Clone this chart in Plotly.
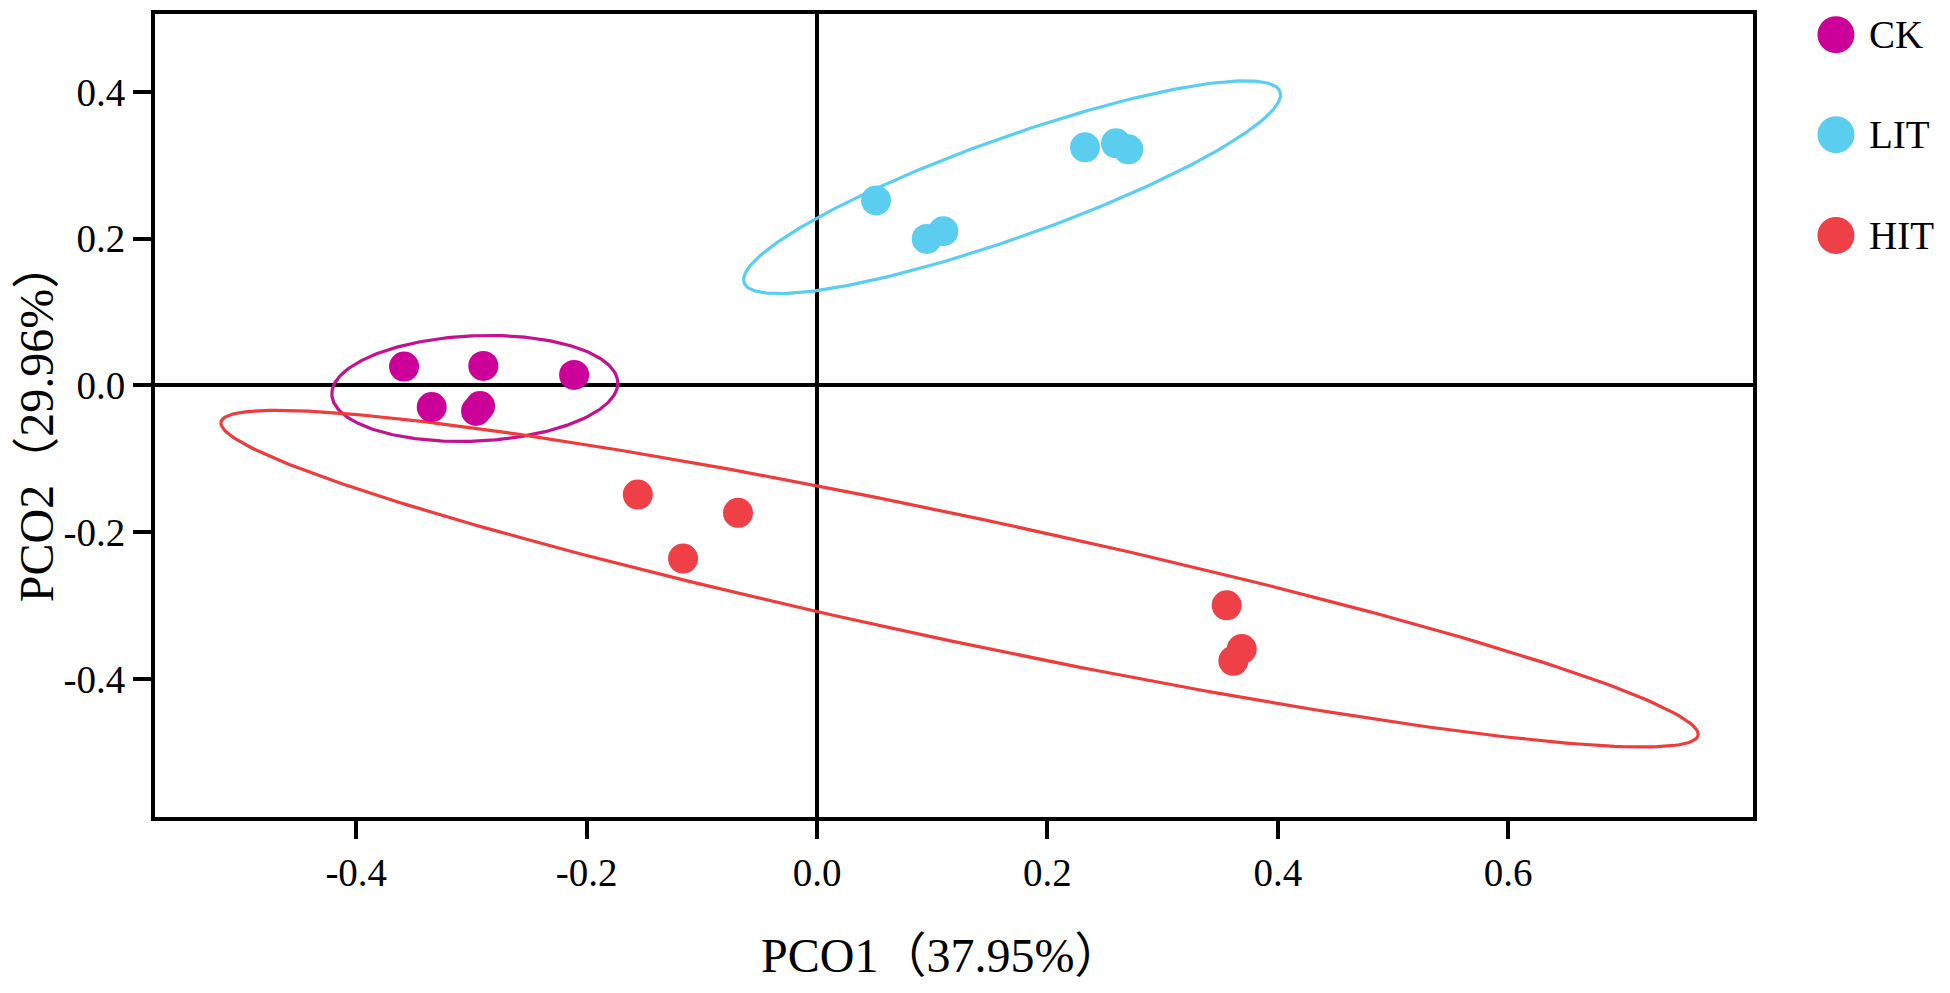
import numpy as np
import plotly.graph_objects as go

# sample scores
ck_x = [-0.3585, -0.2897, -0.2109, -0.3345, -0.2960, -0.2925]
ck_y = [0.0258, 0.0266, 0.0144, -0.0294, -0.0348, -0.0281]
lit_x = [0.0512, 0.0952, 0.1096, 0.2326, 0.2595, 0.2702]
lit_y = [0.2522, 0.1997, 0.2102, 0.3245, 0.3299, 0.3218]
hit_x = [-0.1556, -0.0686, -0.1163, 0.3556, 0.3687, 0.3614]
hit_y = [-0.1487, -0.1736, -0.2359, -0.2997, -0.3593, -0.3752]

# ellipses: centre, first and second semi-axis vectors (data units)
ck_ell = [(-0.2971, -0.0041), (0.1241, 0.0085), (0.0020, -0.0717)]
lit_ell = [(0.1693, 0.2702), (0.2326, 0.1302), (0.0147, -0.0638)]
hit_ell = [(0.1237, -0.2633), (0.6411, -0.2136), (-0.0116, -0.0835)]

groups = ["CK", "LIT", "HIT"]
colors = ["#CC0099", "#5BCEF0", "#EE4046"]
ell_colors = ["#C4128E", "#5BCEF0", "#EE3B3B"]

tick_vals_x = [-0.4, -0.2, 0.0, 0.2, 0.4, 0.6]
tick_text_x = ["-0.4", "-0.2", "0.0", "0.2", "0.4", "0.6"]
tick_vals_y = [-0.4, -0.2, 0.0, 0.2, 0.4]
tick_text_y = ["-0.4", "-0.2", "0.0", "0.2", "0.4"]

FONT = "Liberation Serif, Times New Roman, Noto Sans CJK SC, serif"


def ellipse(params, n=300):
    (cx, cy), (ux, uy), (vx, vy) = params
    t = np.linspace(0, 2 * np.pi, n)
    return cx + ux * np.cos(t) + vx * np.sin(t), cy + uy * np.cos(t) + vy * np.sin(t)


fig = go.Figure()

for ell, col in zip([ck_ell, lit_ell, hit_ell], ell_colors):
    ex, ey = ellipse(ell)
    fig.add_trace(go.Scatter(x=ex, y=ey, mode="lines", line=dict(color=col, width=3.2),
                             hoverinfo="skip", showlegend=False))

for xs, ys, col, name in zip([ck_x, lit_x, hit_x], [ck_y, lit_y, hit_y], colors, groups):
    fig.add_trace(go.Scatter(x=xs, y=ys, mode="markers", name=name,
                             marker=dict(color=col, size=30, line=dict(width=0))))

# legend drawn by hand so the dots can be as large as in the original
leg_y = [0.9743, 0.8497, 0.7243]
for name, col, ly in zip(groups, colors, leg_y):
    fig.add_shape(type="circle", xref="paper", yref="paper", xsizemode="pixel", ysizemode="pixel",
                  xanchor=1.0519, yanchor=ly, x0=-18.5, x1=18.5, y0=-18.5, y1=18.5,
                  fillcolor=col, line=dict(width=0))
    fig.add_annotation(x=1.0713, y=ly, xref="paper", yref="paper", text=name, showarrow=False,
                       xanchor="left", yanchor="middle", font=dict(family=FONT, size=39, color="black"))

fig.add_annotation(x=0.4919, y=-0.2082, xref="paper", yref="paper", text="PCO1（37.95%）",
                   showarrow=False, xanchor="center", yanchor="bottom",
                   font=dict(family=FONT, size=48, color="black"))
fig.add_annotation(x=-0.0915, y=0.492, xref="paper", yref="paper", text="PCO2（29.96%）",
                   showarrow=False, xanchor="left", yanchor="middle", textangle=-90,
                   font=dict(family=FONT, size=48, color="black"))

axis_style = dict(showgrid=False, showline=True, linecolor="black", linewidth=4, mirror=True,
                  ticks="outside", ticklen=18, tickwidth=3.5, tickcolor="black",
                  zeroline=True, zerolinecolor="black", zerolinewidth=3.5,
                  tickfont=dict(family=FONT, size=39, color="black"))

fig.update_xaxes(range=[-0.5747, 0.8125], tickvals=tick_vals_x, ticktext=tick_text_x,
                 ticklabelstandoff=0, **axis_style)
fig.update_yaxes(range=[-0.5881, 0.5062], tickvals=tick_vals_y, ticktext=tick_text_y,
                 ticklabelstandoff=0, **axis_style)

# the page body has an 8px margin; keep figure + margins inside the 1950x993 window
fig.update_layout(
    width=1934,
    height=977,
    margin=dict(l=147, r=189, t=2, b=168),
    plot_bgcolor="white",
    paper_bgcolor="white",
    showlegend=False,
)

fig.write_html("out.html")
